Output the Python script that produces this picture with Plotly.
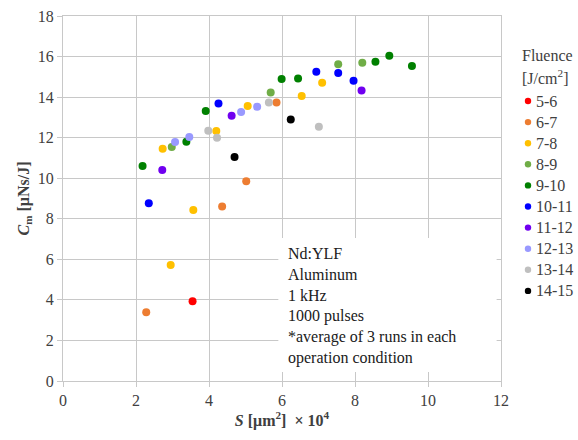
import plotly.graph_objects as go

groups = ["5-6", "6-7", "7-8", "8-9", "9-10", "10-11", "11-12", "12-13", "13-14", "14-15"]
colors = ["#FF0000", "#ED7D31", "#FFC000", "#70AD47", "#008000", "#0000FF", "#7000F0", "#9999FF", "#BFBFBF", "#000000"]

s_5_6 = [3.55]
c_5_6 = [3.93]
s_6_7 = [2.28, 4.36, 5.02, 5.85]
c_6_7 = [3.39, 8.61, 9.85, 13.74]
s_7_8 = [2.95, 3.57, 2.73, 4.20, 5.06, 6.54, 7.10]
c_7_8 = [5.72, 8.43, 11.45, 12.33, 13.56, 14.05, 14.71]
s_8_9 = [2.98, 5.69, 7.54, 8.20]
c_8_9 = [11.54, 14.23, 15.62, 15.70]
s_9_10 = [2.18, 3.38, 3.91, 5.99, 6.44, 8.56, 8.94, 9.56]
c_9_10 = [10.60, 11.80, 13.31, 14.89, 14.92, 15.75, 16.04, 15.53]
s_10_11 = [2.35, 4.26, 6.94, 7.54, 7.96]
c_10_11 = [8.76, 13.68, 15.25, 15.19, 14.81]
s_11_12 = [2.72, 4.62, 8.18]
c_11_12 = [10.40, 13.08, 14.32]
s_12_13 = [3.07, 3.46, 4.88, 5.32]
c_12_13 = [11.79, 12.03, 13.26, 13.53]
s_13_14 = [3.98, 4.22, 5.64, 7.01]
c_13_14 = [12.34, 12.00, 13.74, 12.54]
s_14_15 = [4.70, 6.24]
c_14_15 = [11.05, 12.89]

xs = [s_5_6, s_6_7, s_7_8, s_8_9, s_9_10, s_10_11, s_11_12, s_12_13, s_13_14, s_14_15]
ys = [c_5_6, c_6_7, c_7_8, c_8_9, c_9_10, c_10_11, c_11_12, c_12_13, c_13_14, c_14_15]

FONT = "Liberation Serif, Times New Roman, serif"
TXT = "#404040"

# plot area geometry (pixels)
W, H = 578, 440
L, R, T, B = 63, 77, 16, 59
PW, PH = W - L - R, H - T - B


def px_to_paper(px, py):
    return (px - L) / PW, (H - B - py) / PH


fig = go.Figure()
for g, col, x, y in zip(groups, colors, xs, ys):
    fig.add_trace(go.Scatter(x=x, y=y, mode="markers", name=g, showlegend=False,
                             marker=dict(color=col, size=8, line=dict(width=0))))

# info box
fig.add_shape(type="rect", xref="x", yref="y", x0=5.9, x1=11.88, y0=0.44, y1=7.05,
              fillcolor="white", line=dict(width=0), layer="between")
fig.add_annotation(xref="x", yref="y", x=6.12, y=3.72, xanchor="left", yanchor="middle",
                   align="left", showarrow=False,
                   text="Nd:YLF<br>Aluminum<br>1 kHz<br>1000 pulses<br>*average of 3 runs in each<br>operation condition",
                   font=dict(family=FONT, size=16, color="#202020"))

# legend (manual)
for txt, py in [("Fluence", 55), ("[J/cm<sup>2</sup>]", 77)]:
    lx, ly = px_to_paper(520, py)
    fig.add_annotation(xref="paper", yref="paper", x=lx, y=ly, xanchor="left", yanchor="middle",
                       showarrow=False, text=txt, font=dict(family=FONT, size=16, color=TXT))
for i, (g, col) in enumerate(zip(groups, colors)):
    py = 101 + 21.1 * i
    mx, my = px_to_paper(528, py)
    fig.add_shape(type="circle", xref="paper", yref="paper", xsizemode="pixel", ysizemode="pixel",
                  xanchor=mx, yanchor=my, x0=-3.2, x1=3.2, y0=-3.2, y1=3.2,
                  fillcolor=col, line=dict(width=0))
    tx, ty = px_to_paper(534, py)
    fig.add_annotation(xref="paper", yref="paper", x=tx, y=ty, xanchor="left", yanchor="middle",
                       showarrow=False, text=g, font=dict(family=FONT, size=16, color=TXT))

axis_common = dict(showgrid=True, gridcolor="#C8C8C8", gridwidth=1, zeroline=False,
                   showline=True, linecolor="#C8C8C8", mirror=True,
                   ticks="outside", ticklen=5, tickcolor="#C8C8C8", tickwidth=1,
                   tickfont=dict(family=FONT, size=16, color=TXT))

fig.update_xaxes(range=[0, 12], dtick=2, tick0=0,
                 title=dict(text="<b><i>S</i> [μm<sup>2</sup>]  × 10<sup>4</sup></b>",
                            font=dict(family=FONT, size=16, color=TXT), standoff=6),
                 **axis_common)
fig.update_yaxes(range=[0, 18], dtick=2, tick0=0,
                 title=dict(text="<b><i>C</i><sub>m</sub> [μNs/J]</b>",
                            font=dict(family=FONT, size=16, color=TXT), standoff=4),
                 **axis_common)

fig.update_layout(
    width=W, height=H,
    margin=dict(l=L, r=R, t=T, b=B, autoexpand=False),
    plot_bgcolor="white", paper_bgcolor="white",
    font=dict(family=FONT, size=15, color=TXT),
    showlegend=False,
)

fig.write_html("out.html", config={"displayModeBar": False},
               post_script="document.body.style.margin='0';document.body.style.overflow='hidden';")
